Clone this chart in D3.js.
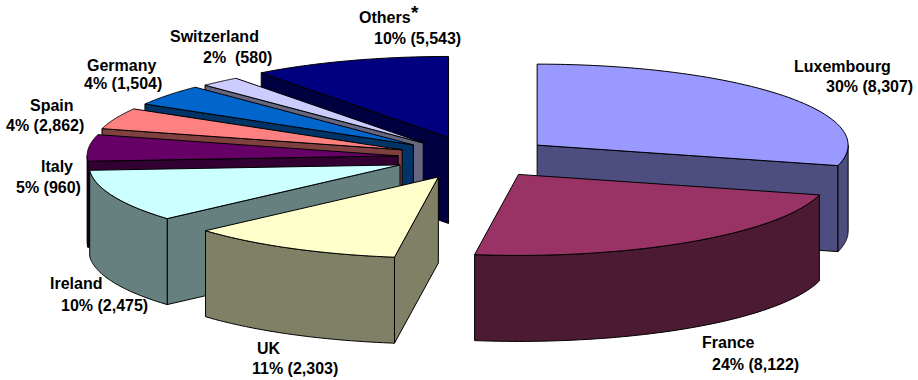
<!DOCTYPE html>
<html>
<head>
<meta charset="utf-8">
<script src="https://cdn.jsdelivr.net/npm/d3@7/dist/d3.min.js"></script>
<style>
  html, body { margin: 0; padding: 0; background: #fff; }
  text { font-family: "Liberation Sans", Arial, sans-serif; font-weight: bold; font-size: 16px; fill: #000; white-space: pre; }
</style>
</head>
<body>
<svg id="chart" width="918" height="380"></svg>
<script>
// Slice values, clockwise from twelve o'clock
const categories = ["Luxembourg", "France", "UK", "Ireland", "Italy", "Spain", "Germany", "Switzerland", "Others"];
const percents = [30, 24, 11, 10, 5, 4, 4, 2, 10];
const amounts = ["8,307", "8,122", "2,303", "2,475", "960", "2,862", "1,504", "580", "5,543"];
const topColors = ["#9999ff", "#993366", "#ffffcc", "#ccffff", "#660066", "#ff8080", "#0066cc", "#ccccff", "#000080"];

// How far each slice is pulled out of the pie, as a share of the radius,
// and how many degrees the pull direction turns away from the slice's middle
const explode = [0.268, 0.285, 0.273, 0.236, 0.215, 0.216, 0.215, 0.21, 0.235];
const explodeTurn = [7.6, -3.5, -10, -5, -5, -2, 1.6, 1, 5.5];

// Label placement: [x, baseline] for the name line and for the value line
const labelPlaces = [
  [[794, 72], [826, 92]],
  [[702, 348], [712, 370]],
  [[257, 354], [252, 374]],
  [[50, 289], [61, 311]],
  [[41, 172], [16, 193]],
  [[30, 111], [6, 131]],
  [[87, 71], [84, 89]],
  [[170, 42], [203, 63]],
  [[359, 23], [374, 44]]
];

const centerX = 465, centerY = 156;
const radiusX = 311, radiusY = 81, depth = 86;
const rad = Math.PI / 180;

// Perspective compresses the angles slightly towards the viewer's side
const warpA = 3.1 * rad, warpB = -0.75 * rad;
const warp = t => t - warpA * (1 - Math.cos(t)) - warpB * Math.sin(t);

const pie = d3.pie().sort(null).value(d => d)(percents);
const line = d3.line();

const slices = pie.map(p => {
  const a0 = warp(p.startAngle), a1 = warp(p.endAngle), mid = (a0 + a1) / 2;
  const pull = explode[p.index], dir = mid + explodeTurn[p.index] * rad;
  const ox = centerX + pull * radiusX * Math.sin(dir);
  const oy = centerY - pull * radiusY * Math.cos(dir);
  const at = t => [ox + radiusX * Math.sin(t), oy - radiusY * Math.cos(t)];
  return { i: p.index, a0, a1, mid, ox, oy, at };
});

const svg = d3.select("#chart");
const drop = pts => pts.map(([x, y]) => [x, y + depth]);
const sweep = (a, b) => d3.range(0, 61).map(k => a + (b - a) * k / 60);

// Painter's order: far slices first
slices.slice().sort((p, q) => d3.descending(Math.cos(p.mid), Math.cos(q.mid))).forEach(s => {
  const base = d3.rgb(topColors[s.i]);
  const wall = d3.rgb(base.r / 2, base.g / 2, base.b / 2);
  const g = svg.append("g").attr("stroke", "#000").attr("stroke-width", 1).attr("stroke-linejoin", "round");
  const apex = [s.ox, s.oy];
  const face = pts => g.append("path").attr("d", line(pts) + "Z").attr("fill", wall);

  // Straight cut walls, only where they turn towards the viewer
  if (s.a0 > Math.PI && s.a0 < 2 * Math.PI) {
    const top = [apex, s.at(s.a0)];
    face(top.concat(drop(top).reverse()));
  }
  if (s.a1 > 0 && s.a1 < Math.PI) {
    const top = [apex, s.at(s.a1)];
    face(top.concat(drop(top).reverse()));
  }

  // Curved rim wall on the near half of the ellipse
  const from = Math.max(s.a0, Math.PI / 2), to = Math.min(s.a1, 1.5 * Math.PI);
  if (to > from) {
    const rim = sweep(from, to).map(s.at);
    face(rim.concat(drop(rim).reverse()));
  }

  // Top face
  const edge = sweep(s.a0, s.a1).map(s.at);
  g.append("path").attr("d", line([apex].concat(edge)) + "Z").attr("fill", base);
});

// Two-line labels
categories.forEach((name, i) => {
  const [first, second] = labelPlaces[i];
  svg.append("text").attr("x", first[0]).attr("y", first[1]).text(name);
  const gap = name === "Switzerland" ? "  " : " ";
  svg.append("text").attr("x", second[0]).attr("y", second[1]).text(`${percents[i]}%${gap}(${amounts[i]})`);
});
svg.append("text").attr("x", 411).attr("y", 19).style("font-size", "19px").text("*");
</script>
</body>
</html>
